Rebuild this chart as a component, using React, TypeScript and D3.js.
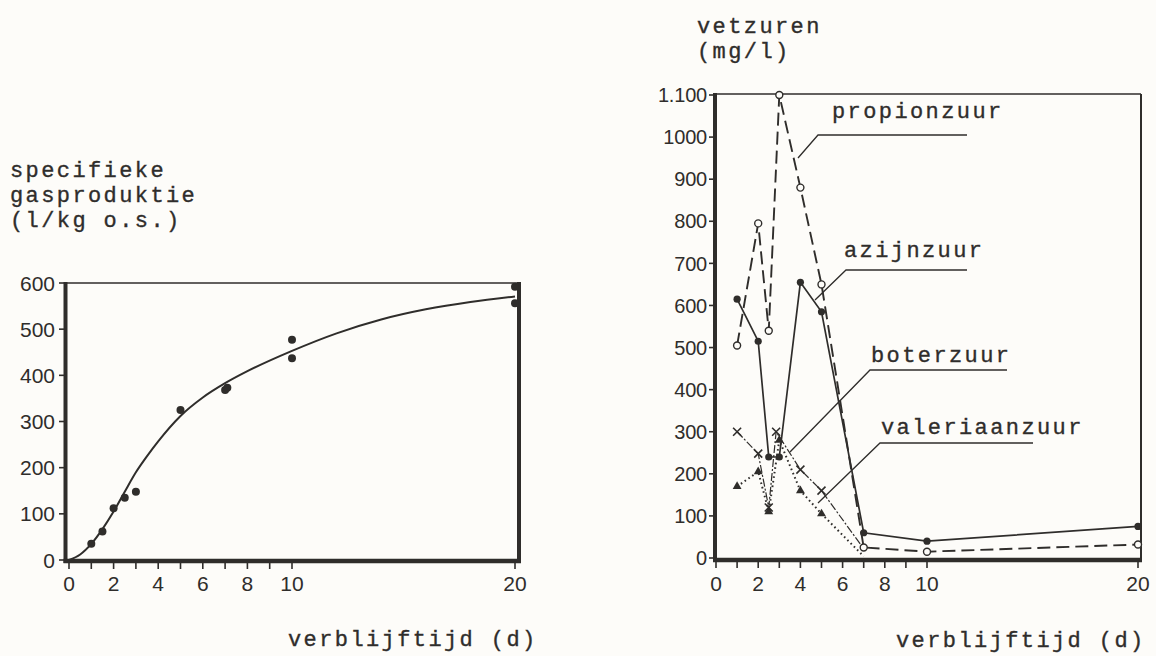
import React from "react";
import * as d3 from "d3";

// ---------- data ----------
// Left panel: specific gas production (l/kg o.s.) vs residence time (d)
const gasPointDays = [1, 1.5, 2, 2.5, 3, 5, 7, 7.1, 10, 10, 20, 20];
const gasPointValues = [35, 62, 112, 135, 148, 325, 368, 373, 477, 437, 592, 556];
const gasCurveDays = [0, 0.5, 1, 1.5, 2, 2.5, 3, 3.5, 4, 5, 6, 7, 8, 10, 12, 14, 16, 18, 20];
const gasCurveValues = [0, 12, 35, 67, 105, 148, 190, 225, 257, 312, 352, 383, 409, 453, 491, 521, 543, 559, 571];

// Right panel: volatile fatty acids (mg/l)
const propionDays = [1, 2, 2.5, 3, 4, 5, 7, 10, 20];
const propionValues = [505, 795, 540, 1100, 880, 650, 25, 15, 32];
const azijnDays = [1, 2, 2.5, 3, 4, 5, 7, 10, 20];
const azijnValues = [615, 515, 240, 240, 655, 585, 60, 40, 75];
const boterDays = [1, 2, 2.5, 2.85, 4, 5, 7];
const boterValues = [300, 248, 120, 300, 210, 160, 22];
const valeriaanDays = [1, 2, 2.5, 3, 4, 5, 7];
const valeriaanValues = [170, 205, 110, 280, 160, 105, 4];

const xTickLabels = [0, 2, 4, 6, 8, 10, 20];
const xMinorTicks = [0, 1, 2, 3, 4, 5, 6, 7, 8, 9, 10, 20];
const yTicksLeft = [0, 100, 200, 300, 400, 500, 600];
const yTicksRight = [0, 100, 200, 300, 400, 500, 600, 700, 800, 900, 1000, 1100];
const yLabelsRight = ["0", "100", "200", "300", "400", "500", "600", "700", "800", "900", "1000", "1.100"];

const leftTitle = ["specifieke", "gasproduktie", "(l/kg o.s.)"];
const rightTitle = ["vetzuren", "(mg/l)"];
const xTitle = "verblijftijd (d)";

// ---------- style ----------
const INK = "#2f2d2b";
const BG = "#fdfcf9";
const MONO = "'Liberation Mono', 'DejaVu Sans Mono', monospace";
const SANS = "'Liberation Sans', Arial, sans-serif";

export default function App() {
  const xL = d3.scaleLinear().domain([0, 20]).range([69, 515]);
  const yL = d3.scaleLinear().domain([0, 600]).range([560, 283]);
  const xR = d3.scaleLinear().domain([0, 20]).range([716, 1138]);
  const yR = d3.scaleLinear().domain([0, 1100]).range([558, 95]);

  const curveLine = d3
    .line<number>()
    .x((_, i) => xL(gasCurveDays[i]))
    .y((d) => yL(d))
    .curve(d3.curveMonotoneX);

  const mkLine = (days: number[]) =>
    d3
      .line<number>()
      .x((_, i) => xR(days[i]))
      .y((d) => yR(d));

  const tri = d3.symbol().type(d3.symbolTriangle).size(34)();

  const monoText = (txt: string, x: number, y: number, key?: string | number) => (
    <text
      key={key}
      x={x}
      y={y}
      fontFamily={MONO}
      fontSize={22}
      letterSpacing={2.4}
      fill={INK}
      stroke={INK}
      strokeWidth={0.35}
    >
      {txt}
    </text>
  );

  const leftFrame = { l: 65.5, r: 519, t: 283, b: 561 };
  const rightFrame = { l: 715, r: 1141, t: 94, b: 560 };

  return (
    <div style={{ position: "fixed", left: 0, top: 0 }}>
      <svg width={1156} height={656} style={{ display: "block" }}>
        <rect x={0} y={0} width={1156} height={656} fill={BG} />

        {/* ===== LEFT PANEL ===== */}
        {leftTitle.map((t, i) => monoText(t, 10, 177 + i * 25, "lt" + i))}

        <line x1={leftFrame.l} x2={leftFrame.r} y1={leftFrame.t} y2={leftFrame.t} stroke={INK} strokeWidth={1.6} />
        <line x1={leftFrame.l} x2={leftFrame.l} y1={leftFrame.t - 1} y2={leftFrame.b + 2} stroke={INK} strokeWidth={4} />
        <line x1={leftFrame.r} x2={leftFrame.r} y1={leftFrame.t - 1} y2={leftFrame.b + 2} stroke={INK} strokeWidth={4} />
        <line x1={leftFrame.l - 2} x2={leftFrame.r + 2} y1={leftFrame.b} y2={leftFrame.b} stroke={INK} strokeWidth={4.5} />

        {yTicksLeft.map((v) => (
          <g key={"yl" + v}>
            <line x1={59} x2={66} y1={yL(v)} y2={yL(v)} stroke={INK} strokeWidth={1.6} />
            <text x={55} y={yL(v) + 7.5} textAnchor="end" fontFamily={SANS} fontSize={21} fill={INK}>
              {v}
            </text>
          </g>
        ))}
        {xMinorTicks.map((v) => (
          <line key={"xlt" + v} x1={xL(v)} x2={xL(v)} y1={leftFrame.b} y2={leftFrame.b + 8} stroke={INK} strokeWidth={1.6} />
        ))}
        {xTickLabels.map((v) => (
          <text key={"xl" + v} x={xL(v)} y={591} textAnchor="middle" fontFamily={SANS} fontSize={21} fill={INK}>
            {v}
          </text>
        ))}
        {monoText(xTitle, 288, 646, "xtl")}

        <path d={curveLine(gasCurveValues) || ""} fill="none" stroke={INK} strokeWidth={2} />
        {gasPointValues.map((v, i) => (
          <circle key={"gp" + i} cx={xL(gasPointDays[i])} cy={yL(v)} r={4} fill={INK} />
        ))}

        {/* ===== RIGHT PANEL ===== */}
        {rightTitle.map((t, i) => monoText(t, 697, 33 + i * 25, "rt" + i))}

        <line x1={rightFrame.l} x2={rightFrame.r} y1={rightFrame.t} y2={rightFrame.t} stroke={INK} strokeWidth={1.6} />
        <line x1={rightFrame.l} x2={rightFrame.l} y1={rightFrame.t - 1} y2={rightFrame.b + 2} stroke={INK} strokeWidth={4} />
        <line x1={rightFrame.r} x2={rightFrame.r} y1={rightFrame.t} y2={rightFrame.b} stroke={INK} strokeWidth={2} />
        <line x1={rightFrame.l - 2} x2={rightFrame.r + 1} y1={rightFrame.b} y2={rightFrame.b} stroke={INK} strokeWidth={4.5} />

        {yTicksRight.map((v, i) => (
          <g key={"yr" + v}>
            <line x1={709} x2={716} y1={yR(v)} y2={yR(v)} stroke={INK} strokeWidth={1.6} />
            <text x={707} y={yR(v) + 7.2} textAnchor="end" fontFamily={SANS} fontSize={20} fill={INK} letterSpacing={-0.2}>
              {yLabelsRight[i]}
            </text>
          </g>
        ))}
        {xMinorTicks.map((v) => (
          <line key={"xrt" + v} x1={xR(v)} x2={xR(v)} y1={rightFrame.b} y2={rightFrame.b + 8} stroke={INK} strokeWidth={1.6} />
        ))}
        {xTickLabels.map((v) => (
          <text key={"xr" + v} x={xR(v)} y={591} textAnchor="middle" fontFamily={SANS} fontSize={21} fill={INK}>
            {v}
          </text>
        ))}
        {monoText(xTitle, 896, 647, "xtr")}

        <path d={mkLine(valeriaanDays)(valeriaanValues) || ""} fill="none" stroke={INK} strokeWidth={2} strokeDasharray="1.6 3" />
        <path d={mkLine(boterDays)(boterValues) || ""} fill="none" stroke={INK} strokeWidth={1.2} strokeDasharray="8 2 2 2" />
        <path d={mkLine(azijnDays)(azijnValues) || ""} fill="none" stroke={INK} strokeWidth={1.7} />
        <path d={mkLine(propionDays)(propionValues) || ""} fill="none" stroke={INK} strokeWidth={1.9} strokeDasharray="13 6" />

        {valeriaanValues.slice(0, 6).map((v, i) => (
          <path key={"vm" + i} d={tri || ""} transform={`translate(${xR(valeriaanDays[i])},${yR(v)})`} fill={INK} />
        ))}
        {boterValues.slice(0, 6).map((v, i) => {
          const cx = xR(boterDays[i]);
          const cy = yR(v);
          return (
            <path
              key={"bm" + i}
              d={`M${cx - 4},${cy - 4}L${cx + 4},${cy + 4}M${cx - 4},${cy + 4}L${cx + 4},${cy - 4}`}
              stroke={INK}
              strokeWidth={1.6}
            />
          );
        })}
        {azijnValues.map((v, i) => (
          <circle key={"am" + i} cx={xR(azijnDays[i])} cy={yR(v)} r={3.6} fill={INK} />
        ))}
        {propionValues.map((v, i) => (
          <circle key={"pm" + i} cx={xR(propionDays[i])} cy={yR(v)} r={3.5} fill={BG} stroke={INK} strokeWidth={1.4} />
        ))}

        {monoText("propionzuur", 832, 118, "lp")}
        <polyline points="967,135 818,135 798,158" fill="none" stroke={INK} strokeWidth={1.3} />
        {monoText("azijnzuur", 844, 257, "la")}
        <polyline points="967,270 846,270 815,300" fill="none" stroke={INK} strokeWidth={1.3} />
        {monoText("boterzuur", 871, 362, "lb")}
        <polyline points="1007,370 870,370 790,452" fill="none" stroke={INK} strokeWidth={1.3} />
        {monoText("valeriaanzuur", 881, 434, "lv")}
        <polyline points="1033,443 880,443 818,503" fill="none" stroke={INK} strokeWidth={1.3} />
      </svg>
    </div>
  );
}
